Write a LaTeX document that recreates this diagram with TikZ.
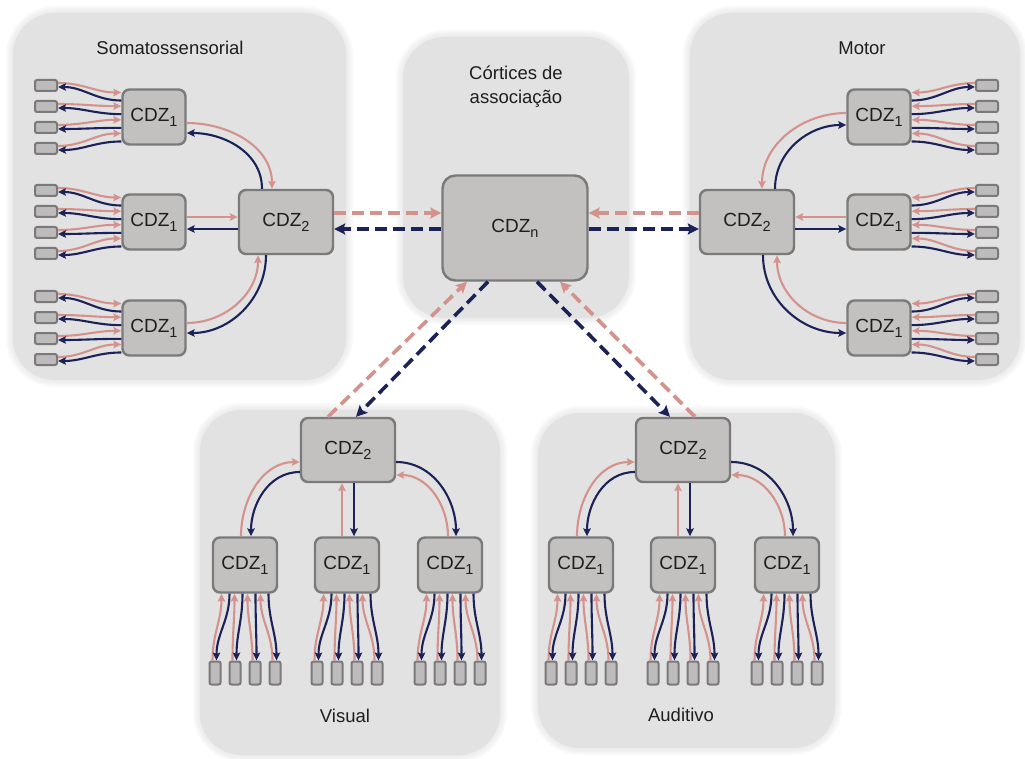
\documentclass[tikz,border=0pt]{standalone}
\usepackage{fontspec}
\setmainfont{Liberation Sans}
\usetikzlibrary{arrows.meta,calc}
\definecolor{panelc}{HTML}{E2E2E2}
\definecolor{boxfill}{HTML}{C3C0C0}
\definecolor{smallfill}{HTML}{BDBBBB}
\definecolor{boxedge}{HTML}{7A7A7A}
\definecolor{ffc}{HTML}{D4928C}
\definecolor{fbc}{HTML}{1C2257}
\definecolor{inkc}{HTML}{1E1E1E}
% lowered index for the zone labels
\newcommand{\zidx}[1]{\raisebox{-5pt}{\fontsize{14.5}{15}\selectfont #1}}
\tikzset{
  panel/.style={fill=panelc, rounded corners=42pt},
  panelhalo/.style={draw=panelc, rounded corners=42pt, line width=#1, draw opacity=0.16},
  cdz/.style={draw=boxedge, fill=boxfill, line width=2.4pt, rounded corners=7pt,
    inner sep=0pt, text=inkc, font=\fontsize{19}{22}\selectfont},
  cdzone/.style={cdz, minimum width=63pt, minimum height=55pt},
  cdztwo/.style={cdz, minimum width=94pt, minimum height=64pt},
  cdztop/.style={cdz, minimum width=145pt, minimum height=105pt, rounded corners=13pt},
  hbox/.style={draw=boxedge, fill=smallfill, line width=2pt, rounded corners=2pt,
    minimum width=22pt, minimum height=11pt, inner sep=0pt},
  vbox/.style={hbox, minimum width=11pt, minimum height=23pt},
  ff/.style={draw=ffc, line width=2.1pt, -{Stealth[length=8pt,width=7.5pt,inset=1.5pt]}},
  fb/.style={draw=fbc, line width=2.1pt, -{Stealth[length=8pt,width=7.5pt,inset=1.5pt]}},
  ffdash/.style={draw=ffc, line width=3.6pt, dash pattern=on 12pt off 6pt,
    -{Stealth[length=11pt,width=11pt,inset=2pt]}},
  fbdash/.style={draw=fbc, line width=3.6pt, dash pattern=on 12pt off 6pt,
    -{Stealth[length=11pt,width=11pt,inset=2pt]}},
  lbl/.style={text=inkc, font=\fontsize{18.5}{24}\selectfont, align=center}
}
\begin{document}
\begin{tikzpicture}[x=1pt,y=-1pt]
\useasboundingbox (0,0) rectangle (1025,759);
\fill[white] (0,0) rectangle (1025,759);

% regions with soft edges
\foreach \xa/\ya/\xb/\yb in {13/13/346/380, 403/37/629/318, 690/13/1020/380,
                             200/410/500/755, 538/413/835/748}{
  \foreach \w in {14,11,8,5,2}{
    \draw[panelhalo=\w pt] (\xa,\ya) rectangle (\xb,\yb);
  }
  \fill[panel] (\xa,\ya) rectangle (\xb,\yb);
}

% region titles
\node[lbl] (tsom) at (170,48) {Somatossensorial};
\node[lbl] (tmot) at (862,48) {Motor};
\node[lbl] (tass) at (516,87) {Córtices de\\associação};
\node[lbl] (tvis) at (345,716) {Visual};
\node[lbl] (taud) at (681,715) {Auditivo};

% higher-order zones
\node[cdztop] (cn) at (515,228) {CDZ\zidx{n}};
\node[cdztwo] (sB) at (286,222) {CDZ\zidx{2}};
\node[cdztwo] (mB) at (747,222) {CDZ\zidx{2}};
\node[cdztwo] (vB) at (348,450) {CDZ\zidx{2}};
\node[cdztwo] (aB) at (683,450) {CDZ\zidx{2}};

% somatosensory first-order zones and their inputs
\foreach \n/\cy in {1/117,2/222,3/328}{
  \node[cdzone] (sl\n) at (154,\cy) {CDZ\zidx{1}};
  \foreach \i/\o in {1/-31.5,2/-10.5,3/10.5,4/31.5}{
    \node[hbox] (slb\n\i) at (46,{\cy+(\o)}) {};
    \draw[ff] ([yshift=2.5pt]slb\n\i.east) to[out=0,in=180] ([yshift={4-0.65*(\o)}]sl\n.west);
    \draw[fb] ([yshift={-4-0.65*(\o)}]sl\n.west) to[out=180,in=0] ([yshift=-1.5pt]slb\n\i.east);
  }
}

% motor first-order zones and their outputs
\foreach \n/\cy in {1/117,2/222,3/328}{
  \node[cdzone] (ml\n) at (879,\cy) {CDZ\zidx{1}};
  \foreach \i/\o in {1/-31.5,2/-10.5,3/10.5,4/31.5}{
    \node[hbox] (mlb\n\i) at (987,{\cy+(\o)}) {};
    \draw[ff] ([yshift=2.5pt]mlb\n\i.west) to[out=180,in=0] ([yshift={4-0.65*(\o)}]ml\n.east);
    \draw[fb] ([yshift={-4-0.65*(\o)}]ml\n.east) to[out=0,in=180] ([yshift=-1.5pt]mlb\n\i.west);
  }
}

% visual and auditory first-order zones and their inputs
\foreach \p/\cx/\n in {v/245/1, v/347/2, v/450/3, a/581/1, a/683/2, a/787/3}{
  \node[cdzone, minimum width=64pt] (\p c\n) at (\cx,565) {CDZ\zidx{1}};
  \foreach \i/\o in {1/-30,2/-10,3/10,4/30}{
    \node[vbox] (\p b\n\i) at ({\cx+(\o)},673) {};
    \draw[ff] ([xshift=-2.5pt]\p b\n\i.north) to[out=90,in=-90] ([xshift={0.65*(\o)-4}]\p c\n.south);
    \draw[fb] ([xshift={0.65*(\o)+4}]\p c\n.south) to[out=-90,in=90] ([xshift=1.5pt]\p b\n\i.north);
  }
}

% somatosensory CDZ1 <-> CDZ2
\draw[ff] ([yshift=-6pt]sl1.east) to[out=0,in=90] ([xshift=-14pt]sB.north);
\draw[fb] ([xshift=-24pt]sB.north) to[out=90,in=0] ([yshift=-16pt]sl1.east);
\draw[ff] ([yshift=5pt]sl2.east) -- ([yshift=5pt]sl2.east -| sB.west);
\draw[fb] ([yshift=-7pt]sl2.east -| sB.west) -- ([yshift=-7pt]sl2.east);
\draw[ff] ([yshift=5pt]sl3.east) to[out=0,in=-90] ([xshift=-28pt]sB.south);
\draw[fb] ([xshift=-20pt]sB.south) to[out=-90,in=0] ([yshift=-5pt]sl3.east);

% motor CDZ2 <-> CDZ1
\draw[ff] ([yshift=4pt]ml1.west) to[out=180,in=90] ([xshift=15pt]mB.north);
\draw[fb] ([xshift=28pt]mB.north) to[out=90,in=180] ([yshift=-8pt]ml1.west);
\draw[ff] ([yshift=5pt]ml2.west) -- ([yshift=5pt]ml2.west -| mB.east);
\draw[fb] ([yshift=-7pt]ml2.west -| mB.east) -- ([yshift=-7pt]ml2.west);
\draw[fb] ([xshift=16pt]mB.south) to[out=-90,in=180] ([yshift=-5pt]ml3.west);
\draw[ff] ([yshift=5pt]ml3.west) to[out=180,in=-90] ([xshift=30pt]mB.south);

% visual and auditory CDZ1 <-> CDZ2
\foreach \p in {v,a}{
  \draw[ff] ([xshift=-4pt]\p c1.north) to[out=90,in=180] ([yshift=-12pt]\p B.west);
  \draw[fb] ([yshift=-22pt]\p B.west) to[out=180,in=90] ([xshift=6pt]\p c1.north);
  \draw[ff] ([xshift=-5pt]\p c2.north) -- ([xshift=-5pt]\p c2.north |- \p B.south);
  \draw[fb] ([xshift=7pt]\p c2.north |- \p B.south) -- ([xshift=7pt]\p c2.north);
  \draw[fb] ([yshift=-12pt]\p B.east) to[out=0,in=90] ([xshift=6pt]\p c3.north);
  \draw[ff] ([xshift=-2pt]\p c3.north) to[out=90,in=0] ([yshift=-25pt]\p B.east);
}

% links to the association zone
\draw[ffdash] ([yshift=9pt]sB.east) -- ([yshift=9pt]sB.east -| cn.west);
\draw[fbdash] ([yshift=-7pt]sB.east -| cn.west) -- ([yshift=-7pt]sB.east);
\draw[ffdash] ([yshift=9pt]mB.west) -- ([yshift=9pt]mB.west -| cn.east);
\draw[fbdash] ([yshift=-7pt]mB.west -| cn.east) -- ([yshift=-7pt]mB.west);
\draw[ffdash] ([xshift=-20pt]vB.north) -- ([xshift=-48pt]cn.south);
\draw[fbdash] ([xshift=-27pt]cn.south) -- ([xshift=8pt]vB.north);
\draw[fbdash] ([xshift=22pt]cn.south) -- ([xshift=-13pt]aB.north);
\draw[ffdash] ([xshift=12pt]aB.north) -- ([xshift=45pt]cn.south);
\end{tikzpicture}
\end{document}
